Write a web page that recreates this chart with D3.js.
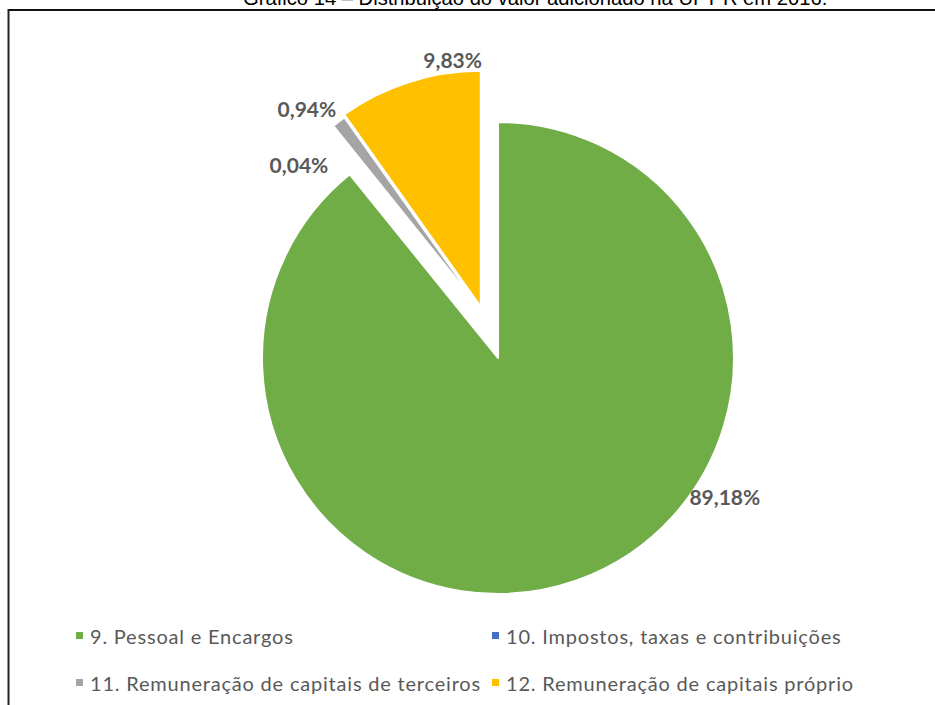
<!DOCTYPE html>
<html>
<head>
<meta charset="utf-8">
<script src="https://cdn.jsdelivr.net/npm/d3@7"></script>
<style>
  html, body { margin: 0; padding: 0; background: #ffffff; }
  svg { display: block; }
</style>
</head>
<body>
<svg id="chart" width="935" height="705"></svg>
<script>
// Distribution of value added (DVA) – share of each destination
const categories = [
  "9. Pessoal e Encargos",
  "10. Impostos, taxas e contribuições",
  "11. Remuneração de capitais de terceiros",
  "12. Remuneração de capitais próprio"
];
const values = [89.18, 0.04, 0.94, 9.83];
const valueLabels = ["89,18%", "0,04%", "0,94%", "9,83%"];
const titleText = "Gráfico 14 – Distribuição do valor adicionado na UFT R em 2016.";

// Styling
const colors = ["#70AD47", "#4472C4", "#A5A5A5", "#FFC000"];
const explode = [27, 27, 24, 27];             // px each slice is pulled out
const explodeDir = [null, null, 340.7, null]; // degrees; null = along slice bisector
const labelPlace = [                           // [angle in degrees, radius] from slice apex
  [121.5, 266], [310.3, 227], [319.2, 266.6], [353.5, 249]
];

const svg = d3.select("#chart");
const W = 935, H = 705;

// Frame and (partly clipped) caption
svg.append("text")
  .attr("x", 243).attr("y", 5)
  .attr("font-family", "Liberation Sans, Arial, sans-serif")
  .attr("font-size", 20.2)
  .attr("fill", "#000")
  .text(titleText);
svg.append("line").attr("x1", 8).attr("x2", W).attr("y1", 10).attr("y2", 10)
  .attr("stroke", "#111").attr("stroke-width", 2);
svg.append("line").attr("x1", 8.5).attr("x2", 8.5).attr("y1", 9).attr("y2", H)
  .attr("stroke", "#222").attr("stroke-width", 2);

// Pie
const cx = 489, cy = 332.5, R = 236;
const pie = d3.pie().sort(null).value(d => d)(values);
const arc = d3.arc().innerRadius(0).outerRadius(R);

const g = svg.append("g").attr("transform", `translate(${cx},${cy})`);

function apex(d, i) {
  const m = explodeDir[i] == null ? (d.startAngle + d.endAngle) / 2 : explodeDir[i] * Math.PI / 180;
  return [explode[i] * Math.sin(m), -explode[i] * Math.cos(m)];
}

g.selectAll("path.slice")
  .data(pie)
  .join("path")
  .attr("class", "slice")
  .attr("transform", (d, i) => { const a = apex(d, i); return `translate(${a[0]},${a[1]})`; })
  .attr("d", arc)
  .attr("fill", (d, i) => colors[i])
  .attr("stroke", "#fff")
  .attr("stroke-width", 2)
  .attr("stroke-linejoin", "round");

g.selectAll("text.lbl")
  .data(pie)
  .join("text")
  .attr("class", "lbl")
  .attr("x", (d, i) => apex(d, i)[0] + labelPlace[i][1] * Math.sin(labelPlace[i][0] * Math.PI / 180))
  .attr("y", (d, i) => apex(d, i)[1] - labelPlace[i][1] * Math.cos(labelPlace[i][0] * Math.PI / 180))
  .attr("text-anchor", "middle")
  .attr("dominant-baseline", "central")
  .attr("font-family", "Lato, Carlito, sans-serif")
  .attr("font-weight", "bold")
  .attr("font-size", 21)
  .attr("fill", "#595959")
  .text((d, i) => valueLabels[i]);

// Legend: two columns, two rows
const legendX = [76, 492], legendY = [636, 683];
const leg = svg.append("g");
categories.forEach((c, i) => {
  const col = i % 2, row = Math.floor(i / 2);
  const item = leg.append("g").attr("transform", `translate(${legendX[col]},${legendY[row]})`);
  item.append("rect").attr("x", 0).attr("y", -4).attr("width", 7).attr("height", 7)
    .attr("fill", colors[i]);
  item.append("text").attr("x", 14).attr("y", 0)
    .attr("dominant-baseline", "central")
    .attr("font-family", "Lato, Carlito, sans-serif")
    .attr("font-size", 20)
    .attr("letter-spacing", 0.8)
    .attr("fill", "#595959")
    .text(c);
});
</script>
</body>
</html>
